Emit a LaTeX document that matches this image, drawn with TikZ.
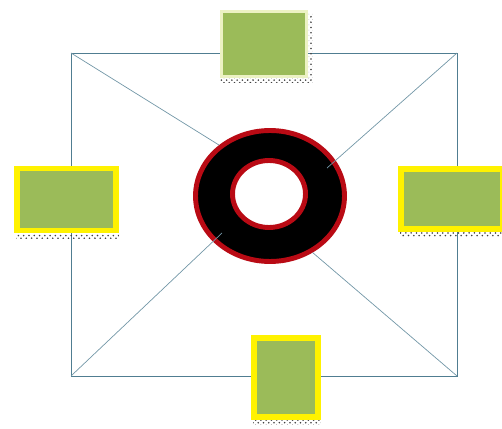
\documentclass[tikz,border=0pt]{standalone}
\usetikzlibrary{shapes.geometric, patterns, calc}
\definecolor{boxgreen}{RGB}{155,187,89}
\definecolor{framecol}{RGB}{80,125,145}
\definecolor{ringred}{RGB}{185,10,20}
\definecolor{paleedge}{RGB}{236,242,196}

\begin{document}
\begin{tikzpicture}[x=0.02cm, y=-0.02cm,
  yellowbox/.style={rectangle, draw=yellow, line width=3.4pt, fill=boxgreen, inner sep=0pt},
  shadestrip/.style={pattern=crosshatch dots, pattern color=black!75}]
\useasboundingbox (0,0) rectangle (502,428);

\coordinate (tl) at (71,53);
\coordinate (tr) at (457,53);
\coordinate (bl) at (71,376);
\coordinate (br) at (457,376);
\draw[framecol, line width=0.5pt] (tl) rectangle (br);

% ring in the middle
\node[ellipse, draw=ringred, line width=2.8pt, fill=black, minimum width=2.98cm, minimum height=2.62cm] (ring) at (270,196) {};
\node[ellipse, draw=ringred, line width=2.8pt, fill=white, minimum width=1.46cm, minimum height=1.34cm] (hole) at (269,194) {};
\coordinate (ur) at (327,168);
\coordinate (ll) at (222,233);
\draw[framecol!80, line width=0.4pt] (tl) -- (ring.135);
\draw[framecol!80, line width=0.4pt] (br) -- (ring.-53);
\draw[framecol!80, line width=0.4pt] (tr) -- (ur);
\draw[framecol!80, line width=0.4pt] (bl) -- (ll);

% boxes on the frame
\node[rectangle, draw=paleedge, line width=1.7pt, fill=boxgreen, inner sep=0pt, minimum width=1.7cm, minimum height=1.3cm] (topbox) at (264,44) {};
\node[yellowbox, minimum width=1.98cm, minimum height=1.24cm] (leftbox) at (66.5,199.5) {};
\node[yellowbox, minimum width=2.04cm, minimum height=1.2cm] (rightbox) at (452,199) {};
\node[yellowbox, minimum width=1.28cm, minimum height=1.58cm] (bottombox) at (286,377.5) {};

\fill[shadestrip] ($(topbox.south west)+(0,1)$) rectangle ($(topbox.south east)+(5,5)$);
\fill[shadestrip] ($(topbox.north east)+(1,3)$) rectangle ($(topbox.south east)+(5,1)$);
\fill[shadestrip] ($(leftbox.south west)+(2,1)$) rectangle ($(leftbox.south east)+(0,5)$);
\fill[shadestrip] ($(rightbox.south west)+(2,1)$) rectangle ($(rightbox.south east)+(0,5)$);
\fill[shadestrip] ($(bottombox.south west)+(2,1)$) rectangle ($(bottombox.south east)+(0,5)$);
\end{tikzpicture}
\end{document}
